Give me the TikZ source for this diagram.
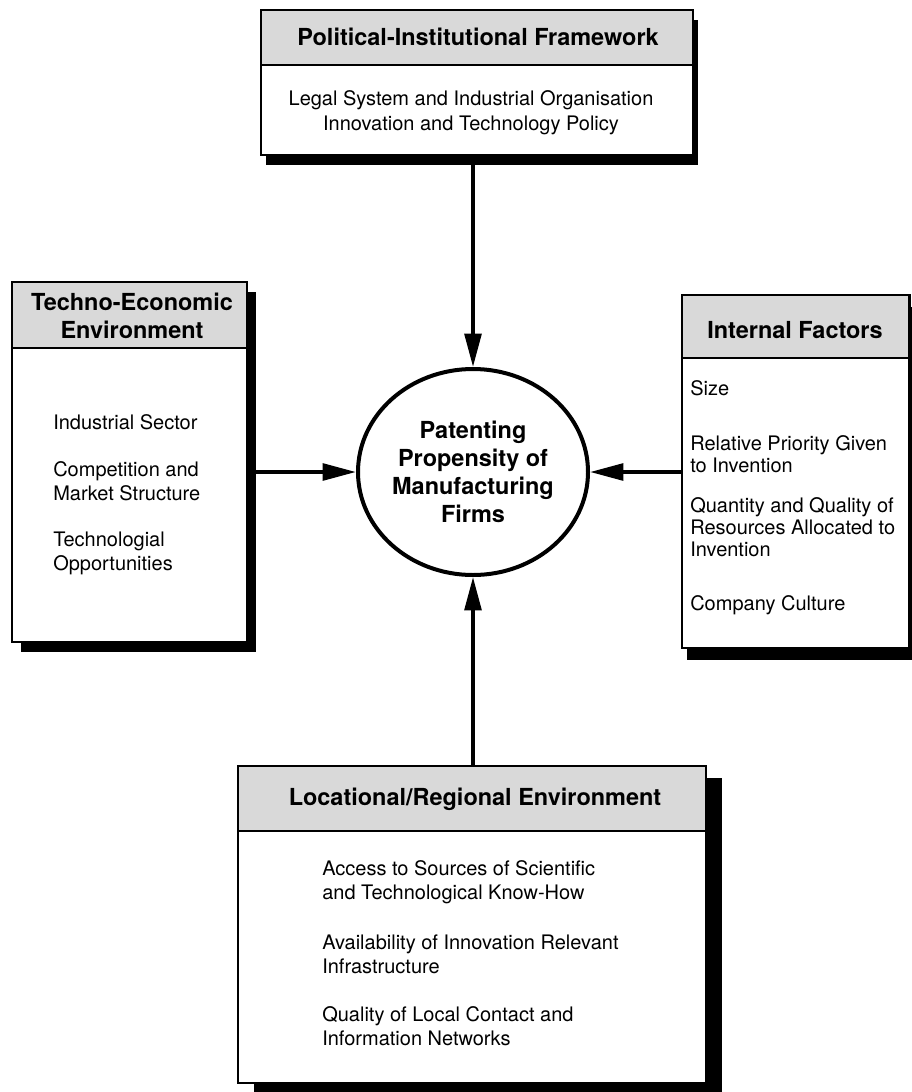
\documentclass[tikz,border=0pt]{standalone}
\usepackage{fontspec}
\setmainfont{TeX Gyre Heros}
\usetikzlibrary{arrows.meta,shapes.geometric,fit,shadows}
\begin{document}
\begin{tikzpicture}[x=0.75pt,y=-0.75pt,
  panel/.style={draw, line width=1.8pt, fill=white, inner sep=0pt},
  head/.style={draw, line width=1.8pt, fill=black!15, inner sep=0pt},
  headtxt/.style={font=\fontsize{17.6}{21}\selectfont\bfseries, align=center, inner sep=0pt},
  item/.style={font=\fontsize{15}{18}\selectfont, align=left, anchor=west, inner sep=0pt},
  arr/.style={line width=2.8pt, -{Triangle[length=25pt,width=12.5pt]}},
  hub/.style={ellipse, draw, line width=3pt, fill=white, inner sep=0pt,
    minimum width=172.5pt, minimum height=154.5pt,
    font=\fontsize{17.6}{21}\selectfont\bfseries, align=center}
]
\useasboundingbox (0,0) rectangle (911,1092);
\fill[white] (0,0) rectangle (911,1092);

% ---- Political-Institutional Framework (top)
\coordinate (p1) at (261,10);
\coordinate (p2) at (693,155);
\coordinate (p3) at (693,65);
\node[panel, fit=(p1)(p2), drop shadow={shadow xshift=3.75pt, shadow yshift=-7.5pt, opacity=1, fill=black}] (pol) {};
\node[head, fit=(p1)(p3)] (polh) {};
\node[headtxt] (polt) at (478,37) {Political-Institutional Framework};
\node[font=\fontsize{15}{18.75}\selectfont, align=center, inner sep=0pt] (pol1) at (471,112.5)
  {Legal System and Industrial Organisation\\Innovation and Technology Policy};

% ---- Techno-Economic Environment (left)
\coordinate (t1) at (12,282);
\coordinate (t2) at (247,642);
\coordinate (t3) at (247,348);
\node[panel, fit=(t1)(t2), drop shadow={shadow xshift=6.75pt, shadow yshift=-7.5pt, opacity=1, fill=black}] (tec) {};
\node[head, fit=(t1)(t3)] (tech) {};
\node[headtxt] (tect) at (132,316) {Techno-Economic\\Environment};
\node[item] (tec1) at (53,422) {Industrial Sector};
\node[item, font=\fontsize{15}{17.6}\selectfont] (tec2) at (53,481) {Competition and\\Market Structure};
\node[item, font=\fontsize{15}{17.6}\selectfont] (tec3) at (53,553.5) {Technologial\\Opportunities};

% ---- Internal Factors (right)
\coordinate (i1) at (682,295);
\coordinate (i2) at (909.5,648);
\coordinate (i3) at (909.5,358);
\node[panel, fit=(i1)(i2), drop shadow={shadow xshift=3.75pt, shadow yshift=-9pt, opacity=1, fill=black}] (int) {};
\node[head, fit=(i1)(i3)] (inth) {};
\node[headtxt] (intt) at (795,330) {Internal Factors};
\node[item] (int1) at (690,388) {Size};
\node[item, font=\fontsize{15}{16.5}\selectfont] (int2) at (690,454) {Relative Priority Given\\to Invention};
\node[item, font=\fontsize{15}{16.5}\selectfont] (int3) at (690,527) {Quantity and Quality of\\Resources Allocated to\\Invention};
\node[item] (int4) at (690,605) {Company Culture};

% ---- Locational/Regional Environment (bottom)
\coordinate (l1) at (238,766);
\coordinate (l2) at (706,1083);
\coordinate (l3) at (706,831);
\node[panel, fit=(l1)(l2), drop shadow={shadow xshift=12pt, shadow yshift=-9pt, opacity=1, fill=black}] (loc) {};
\node[head, fit=(l1)(l3)] (loch) {};
\node[headtxt] (loct) at (475,799) {Locational/Regional Environment};
\node[item] (loc1) at (322,882) {Access to Sources of Scientific\\and Technological Know-How};
\node[item] (loc2) at (322,954.5) {Availability of Innovation Relevant\\Infrastructure};
\node[item] (loc3) at (322,1026) {Quality of Local Contact and\\Information Networks};

% ---- Central ellipse
\node[hub] (c) at (473,472) {Patenting\\Propensity of\\Manufacturing\\Firms};

% ---- Connectors
\draw[arr] (c.north |- pol.south) -- (c.north);
\draw[arr] (tec.east |- c.west) -- (c.west);
\draw[arr] (int.west |- c.east) -- (c.east);
\draw[arr] (loc.north -| c.south) -- (c.south);
\end{tikzpicture}
\end{document}
